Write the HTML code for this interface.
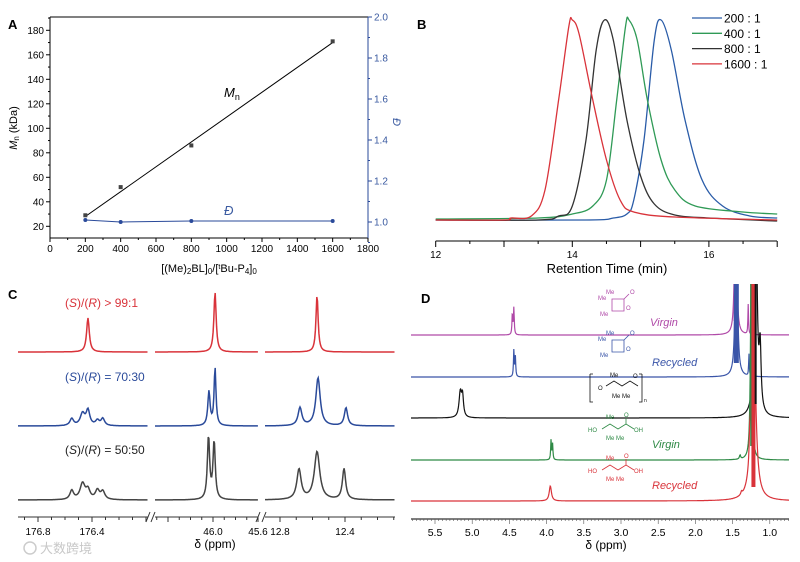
<!DOCTYPE html>
<html><head><meta charset="utf-8"><style>
body{margin:0;background:#fff;}
svg{display:block;font-family:"Liberation Sans","Noto Sans CJK SC",sans-serif;}
</style></head><body>
<svg id="fig" width="800" height="562" viewBox="0 0 800 562"></svg>
<script>
// ---------- Panel A data ----------
const aRatio=[200,400,800,1600];
const aMn=[29,52,86,171];
const aDisp=[1.01,1.0,1.005,1.005];
const aFit=[28,170];
const aXTicks=[0,200,400,600,800,1000,1200,1400,1600,1800];
const aYTicks=[20,40,60,80,100,120,140,160,180];
const aY2Ticks=[1.0,1.2,1.4,1.6,1.8,2.0];
// ---------- Panel B data ----------
const bLabels=["200 : 1","400 : 1","800 : 1","1600 : 1"];
const bColors=["#2a5ca8","#2f9a56","#333333","#d9333a"];
const bT200=[12,14.2,14.6,14.8,14.9,15.05,15.2,15.3,15.45,15.65,15.9,16.2,16.6,17];
const bH200=[0,0,0.01,0.03,0.1,0.4,0.9,1,0.85,0.5,0.2,0.07,0.02,0.01];
const bT400=[12,13.5,14,14.3,14.5,14.65,14.78,14.83,14.95,15.1,15.3,15.5,15.8,16.5,17];
const bH400=[0.005,0.01,0.03,0.07,0.2,0.6,0.97,1,0.9,0.6,0.3,0.15,0.07,0.04,0.03];
const bT800=[12,13.5,13.8,14,14.2,14.35,14.47,14.6,14.8,15,15.2,15.5,16,17];
const bH800=[0,0,0.02,0.07,0.4,0.85,1,0.9,0.5,0.22,0.08,0.025,0.01,-0.005];
const bT1600=[12,13,13.1,13.4,13.6,13.8,13.95,14,14.1,14.3,14.5,14.7,14.9,15.5,17];
const bH1600=[0,0,0.01,0.02,0.15,0.6,0.97,1,0.93,0.6,0.3,0.1,0.04,0.015,0];
const bXTicks=[12,14,16];
// ---------- Panel C data (ppm, height, halfwidth) ----------
const cRedPeaks=[[[176.43,34,0.012]],[[45.982,60,0.012]],[[12.572,57,0.008]]];
const cBluePeaks=[[[176.55,7,0.016],[176.47,12,0.02],[176.43,15,0.016],[176.36,5,0.016],[176.32,7,0.016]],
 [[46.036,34,0.012],[45.982,58,0.01]],[[12.677,18,0.014],[12.566,48,0.016],[12.394,18,0.012]]];
const cGrayPeaks=[[[176.55,9,0.016],[176.47,16,0.022],[176.43,9,0.018],[176.36,9,0.018],[176.32,8,0.018]],
 [[46.04,63,0.012],[45.99,58,0.012]],[[12.683,30,0.016],[12.572,48,0.02],[12.406,31,0.012]]];
const cTicks1=[176.8,176.4];const cTicks2=[46.0,45.6];const cTicks3=[12.8,12.4];
// ---------- Panel D data ----------
const dNames=["virgin-lactone","recycled-lactone","polymer","virgin-acid","recycled-acid"];
const dColors=["#b04aa8","#3a55a8","#111111","#2f8a46","#d9333a"];
const dLabels=["Virgin","Recycled","","Virgin","Recycled"];
const dPeaks=[[[4.46,22,0.006],[4.44,27,0.006],[1.46,220,0.012],[1.29,30,0.005]],
 [[4.44,27,0.006],[4.42,20,0.006],[1.45,220,0.014],[1.28,22,0.005]],
 [[5.16,25,0.02],[5.13,20,0.015],[1.19,260,0.02],[1.13,60,0.015]],
 [[3.94,20,0.006],[3.92,16,0.006],[1.25,200,0.012],[1.4,4,0.01]],
 [[3.95,15,0.018],[1.22,220,0.03],[1.27,20,0.008],[1.38,3,0.01]]];
const dTicks=[5.5,5.0,4.5,4.0,3.5,3.0,2.5,2.0,1.5,1.0];

const NS="http://www.w3.org/2000/svg";
const svg=document.getElementById("fig");
function mk(tag,attrs,parent){const e=document.createElementNS(NS,tag);for(const k in attrs)e.setAttribute(k,attrs[k]);(parent||svg).appendChild(e);return e;}
function txt(s,x,y,size,fill,anchor,parent,extra){const t=mk("text",Object.assign({x:x,y:y,"font-size":size,fill:fill,"text-anchor":anchor||"start"},extra||{}),parent);t.textContent=s;return t;}
function smooth(pts){let d="M"+pts[0][0]+","+pts[0][1];for(let i=0;i<pts.length-1;i++){const p0=pts[Math.max(0,i-1)],p1=pts[i],p2=pts[i+1],p3=pts[Math.min(pts.length-1,i+2)];const c1=[p1[0]+(p2[0]-p0[0])/6,p1[1]+(p2[1]-p0[1])/6],c2=[p2[0]-(p3[0]-p1[0])/6,p2[1]-(p3[1]-p1[1])/6];d+="C"+c1[0].toFixed(1)+","+c1[1].toFixed(1)+" "+c2[0].toFixed(1)+","+c2[1].toFixed(1)+" "+p2[0].toFixed(1)+","+p2[1].toFixed(1);}return d;}

// ===== Panel A =====
const gA=mk("g",{});


const ax=v=>50+v/1800*318, ay=v=>226.3-(v-20)/20*24.5, ay2=v=>222-(v-1.0)*205;
let l=txt("A",8,29,13,"#000","start",gA,{"font-weight":"bold"});

let fr=mk("path",{d:"M50,17 H368 M50,17 V238 H368",stroke:"#000","stroke-width":1,fill:"none"},gA);

let r2=mk("line",{x1:368,y1:17,x2:368,y2:238,stroke:"#2a4a9a","stroke-width":1},gA);

aXTicks.forEach((v,i)=>{mk("line",{x1:ax(v),y1:238,x2:ax(v),y2:242,stroke:"#000"},gA);if(i<aXTicks.length-1)mk("line",{x1:ax(v+100),y1:238,x2:ax(v+100),y2:240,stroke:"#000"},gA);
 const t=txt(String(v),ax(v),252,10,"#000","middle",gA);});
aYTicks.forEach(v=>{mk("line",{x1:46,y1:ay(v),x2:50,y2:ay(v),stroke:"#000"},gA);mk("line",{x1:48,y1:ay(v+10),x2:50,y2:ay(v+10),stroke:"#000"},gA);
 const t=txt(String(v),44,ay(v)+3.5,10,"#000","end",gA);});
aY2Ticks.forEach(v=>{mk("line",{x1:368,y1:ay2(v),x2:372,y2:ay2(v),stroke:"#2a4a9a"},gA);mk("line",{x1:368,y1:ay2(v-0.1),x2:370,y2:ay2(v-0.1),stroke:"#2a4a9a"},gA);
 const t=txt(v.toFixed(1),374,ay2(v)+3.5,10,"#3a5aa0","start",gA);});
let yt=txt("",17,128,11,"#000","middle",gA,{transform:"rotate(-90 17 128)"});yt.innerHTML='<tspan font-style="italic">M</tspan><tspan font-size="8" dy="2">n</tspan><tspan dy="-2"> (kDa)</tspan>';

let y2t=txt("Đ",393,122,11,"#3a5aa0","middle",gA,{transform:"rotate(90 393 122)","font-style":"italic"});

let xt=txt("",209,272,11,"#000","middle",gA);xt.innerHTML='[(Me)<tspan font-size="8" dy="2">2</tspan><tspan dy="-2">BL]</tspan><tspan font-size="8" dy="2">0</tspan><tspan dy="-2">/[</tspan><tspan font-size="7" dy="-3">t</tspan><tspan dy="3">Bu-P</tspan><tspan font-size="8" dy="2">4</tspan><tspan dy="-2">]</tspan><tspan font-size="8" dy="2">0</tspan>';

let fit=mk("line",{x1:ax(aRatio[0]),y1:ay(aFit[0]),x2:ax(aRatio[3]),y2:ay(aFit[1]),stroke:"#000","stroke-width":1},gA);

aRatio.forEach((r,i)=>{const p=mk("rect",{x:ax(r)-2,y:ay(aMn[i])-2,width:4,height:4,fill:"#444"},gA);});
let dl=mk("polyline",{points:aRatio.map((r,i)=>ax(r)+","+ay2(aDisp[i])).join(" "),fill:"none",stroke:"#2a4a9a","stroke-width":1},gA);

aRatio.forEach((r,i)=>{const p=mk("circle",{cx:ax(r),cy:ay2(aDisp[i]),r:2,fill:"#2a4a9a"},gA);});
let ml=txt("",224,97,13,"#000","start",gA);ml.innerHTML='<tspan font-style="italic">M</tspan><tspan font-size="9" dy="3">n</tspan>';

let dlb=txt("Đ",224,215,13,"#3a5aa0","start",gA,{"font-style":"italic"});


// ===== Panel B =====
const gB=mk("g",{});


const bx=t=>435.7+(t-12)*68.3, by=h=>220-h*200;
l=txt("B",417,29,13,"#000","start",gB,{"font-weight":"bold"});

let bax=mk("line",{x1:435.7,y1:241,x2:777,y2:241,stroke:"#000"},gB);

for(let t=12;t<=17;t+=0.5){mk("line",{x1:bx(t),y1:241,x2:bx(t),y2:t%1===0?247:244,stroke:"#000"},gB);}
bXTicks.forEach(v=>{const t=txt(String(v),bx(v),258,10,"#000","middle",gB);});
let bt=txt("Retention Time (min)",607,273,13,"#000","middle",gB);
const bSeries=[[bT200,bH200],[bT400,bH400],[bT800,bH800],[bT1600,bH1600]];
bSeries.forEach((s,i)=>{const p=mk("path",{d:smooth(s[0].map((t,j)=>[bx(t),by(s[1][j])])),fill:"none",stroke:bColors[i],"stroke-width":1.3},gB);
 
 const ly=18+i*15.3;const ln=mk("line",{x1:692,y1:ly,x2:722,y2:ly,stroke:bColors[i],"stroke-width":1.3},gB);
 const lt=txt(bLabels[i],724,ly+4.5,12,"#000","start",gB);});

// ===== Panel C =====
const gC=mk("g",{});


l=txt("C",8,299,13,"#000","start",gC,{"font-weight":"bold"});

const cols=[{x0:18,x1:148,ref:176.8,refx:38,ppx:135,ticks:cTicks1},{x0:155,x1:258,ref:46.0,refx:213,ppx:112.5,ticks:cTicks2},{x0:265,x1:395,ref:12.8,refx:280,ppx:162.5,ticks:cTicks3}];
const rows=[[cRedPeaks,"#d9333a",352,"red"],[cBluePeaks,"#2a4a9a",426,"blue"],[cGrayPeaks,"#444",500,"gray"]];
rows.forEach(r=>{cols.forEach((c,ci)=>{const pk=r[0][ci];let pts=[];for(let x=c.x0;x<=c.x1;x+=0.7){const ppm=c.ref-(x-c.refx)/c.ppx;let h=0;pk.forEach(p=>{const u=(ppm-p[0])/p[2];h+=p[1]/(1+u*u);});pts.push(x.toFixed(1)+","+(r[2]-h).toFixed(1));}
 const pl=mk("polyline",{points:pts.join(" "),fill:"none",stroke:r[1],"stroke-width":1.5},gC);});});
let cl1=txt("",65,307,12,"#d9333a","start",gC);cl1.innerHTML='(<tspan font-style="italic">S</tspan>)/(<tspan font-style="italic">R</tspan>) &gt; 99:1';
let cl2=txt("",65,381,12,"#2a4a9a","start",gC);cl2.innerHTML='(<tspan font-style="italic">S</tspan>)/(<tspan font-style="italic">R</tspan>) = 70:30';
let cl3=txt("",65,454,12,"#222","start",gC);cl3.innerHTML='(<tspan font-style="italic">S</tspan>)/(<tspan font-style="italic">R</tspan>) = 50:50';
let cax=mk("path",{d:"M18,517 H148 M155,517 H258 M265,517 H395 M146,522 L150,512 M151,522 L155,512 M256,522 L260,512 M262,522 L266,512",stroke:"#333",fill:"none"},gC);

cols.forEach(c=>{for(let k=-10;k<=10;k++){const x=c.refx+k*0.1*c.ppx;if(x>=c.x0&&x<=c.x1)mk("line",{x1:x,y1:517,x2:x,y2:k%4===0?522:520,stroke:"#333"},gC);}
 c.ticks.forEach(v=>{const x=c.refx+(c.ref-v)*c.ppx;const t=txt(v.toFixed(1),x,535,10,"#000","middle",gC);});});
let ct=txt("δ (ppm)",215,548,12,"#000","middle",gC);
let wm=txt("大数跨境",40,553,13,"#c8c8c8","start",gC);
let wmi=mk("circle",{cx:30,cy:548,r:6,fill:"none",stroke:"#ccc","stroke-width":1.5},gC);

// ===== Panel D =====
const gD=mk("g",{});


const defs=mk("defs",{},gD);
const cp=mk("clipPath",{id:"dclip"},defs);
mk("rect",{x:411,y:284,width:378,height:236},cp);
l=txt("D",421,303,13,"#000","start",gD,{"font-weight":"bold"});

const dx=p=>435+(5.5-p)*74.4;
const dBase=[335,377,418,460,501];
const gDc=mk("g",{"clip-path":"url(#dclip)"},gD);
dPeaks.forEach((pk,i)=>{let pts=[];for(let x=411;x<=789;x+=0.4){const ppm=5.5-(x-435)/74.4;let h=0;pk.forEach(p=>{const u=(ppm-p[0])/p[2];h+=p[1]/(1+u*u);});pts.push(x.toFixed(1)+","+(dBase[i]-h).toFixed(1));}
 const pl=mk("polyline",{points:pts.join(" "),fill:"none",stroke:dColors[i],"stroke-width":1.2},gDc);
 if(dLabels[i]){const t=txt(dLabels[i],i===0?650:652,dBase[i]-(i===0?9:i===1?11:12),11,dColors[i],"start",gD,{"font-style":"italic"});}});
[[1.46,0,4,"#b04aa8"],[1.45,1,5,"#3a55a8"],[1.25,3,2,"#2f8a46"],[1.22,4,4,"#d9333a"],[1.19,2,2,"#111"]].forEach(b=>{const r=mk("rect",{x:dx(b[0])-b[2]/2,y:284,width:b[2],height:dBase[b[1]]-284-14,fill:b[3]},gDc);});
const structs=[[598,311,"#b04aa8"],[598,352,"#3a55a8"],[600,392,"#111"],[592,433,"#2f8a46"],[592,474,"#d9333a"]];
structs.forEach((s,i)=>{const g=mk("g",{},gD);
 if(i<2){mk("path",{d:`M${s[0]+14},${s[1]-12} l12,0 l0,12 l-12,0 z M${s[0]+26},${s[1]-12} l5,-5`,stroke:s[2],fill:"none","stroke-width":0.8},g);txt("Me",s[0]+8,s[1]-17,6,s[2],"start",g);txt("Me",s[0],s[1]-11,6,s[2],"start",g);txt("Me",s[0]+2,s[1]+5,6,s[2],"start",g);txt("O",s[0]+28,s[1]-1,6,s[2],"start",g);txt("O",s[0]+32,s[1]-17,6,s[2],"start",g);}
 else if(i===2){mk("path",{d:`M${s[0]-10},${s[1]-18} v28 h3 M${s[0]+42},${s[1]-18} v28 h-3 M${s[0]-10},${s[1]-18} h3 M${s[0]+42},${s[1]-18} h-3 M${s[0]+6},${s[1]-6} l8,-5 l8,5 l8,-5 l8,5`,stroke:s[2],fill:"none","stroke-width":0.8},g);txt("O",s[0]-2,s[1]-2,6,s[2],"start",g);txt("Me",s[0]+10,s[1]-15,6,s[2],"start",g);txt("O",s[0]+33,s[1]-14,6,s[2],"start",g);txt("Me Me",s[0]+12,s[1]+6,6,s[2],"start",g);txt("n",s[0]+44,s[1]+10,5,s[2],"start",g);}
 else{mk("path",{d:`M${s[0]+10},${s[1]-4} l8,-5 l8,5 l8,-5 l8,5 M${s[0]+34},${s[1]-9} v-6`,stroke:s[2],fill:"none","stroke-width":0.8},g);txt("HO",s[0]-4,s[1]-1,6,s[2],"start",g);txt("Me",s[0]+14,s[1]-14,6,s[2],"start",g);txt("O",s[0]+32,s[1]-16,6,s[2],"start",g);txt("OH",s[0]+42,s[1]-1,6,s[2],"start",g);txt("Me  Me",s[0]+14,s[1]+7,6,s[2],"start",g);}});
let dax=mk("line",{x1:411,y1:519,x2:789,y2:519,stroke:"#333","stroke-width":1.2},gD);

for(let p=5.8;p>=0.75;p-=0.05){const x=dx(p);if(x>=411&&x<=789)mk("line",{x1:x,y1:519,x2:x,y2:Math.abs(p*2-Math.round(p*2))<0.01?524:521,stroke:"#555","stroke-width":0.6},gD);}
dTicks.forEach(v=>{const t=txt(v.toFixed(1),dx(v),536,10.5,"#000","middle",gD);});
let dt=txt("δ (ppm)",606,549,12,"#000","middle",gD);
</script>
</body></html>
